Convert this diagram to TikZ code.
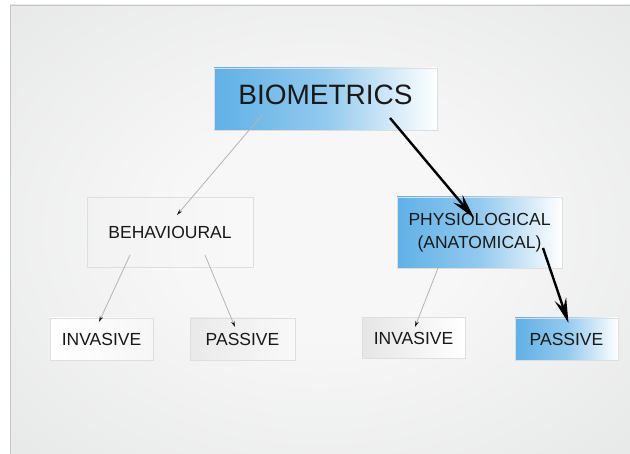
\documentclass[tikz,border=0pt]{standalone}
\usepackage{fontspec}
\setmainfont{Liberation Sans}
\usetikzlibrary{arrows.meta}
\definecolor{bioblue}{RGB}{96,176,230}
\definecolor{bgin}{RGB}{247,247,247}
\definecolor{bgout}{RGB}{208,210,210}
\definecolor{boxline}{RGB}{222,222,222}
\definecolor{linkgray}{RGB}{180,180,180}
\definecolor{ink}{RGB}{25,25,25}
\pgfdeclareradialshading{slidebg}{\pgfpoint{0bp}{0bp}}{color(0bp)=(bgin); color(12bp)=(bgin); color(71bp)=(bgout)}
\tikzset{
  card/.style={draw=boxline, line width=0.6pt, inner sep=0pt, text=ink,
    font=\fontsize{17.5}{23}\selectfont, align=center},
  bluecard/.style={card, left color=bioblue, right color=white, middle color=bioblue!68},
  graycard/.style 2 args={card, left color=#1, right color=#2},
  minor edge/.style={draw=linkgray, line width=0.8pt, -{Stealth[length=6pt,width=3.5pt,color=ink]}},
  major edge/.style={draw=black, line width=2.4pt, -{Stealth[length=25pt,width=12pt,inset=9pt]}},
}
\begin{document}
\begin{tikzpicture}[x=1pt, y=-1pt]
\useasboundingbox (0,0) rectangle (630,454);
\fill[white] (0,0) rectangle (630,454);
\shade[shading=slidebg, draw=gray!45, line width=0.6pt] (10,5) rectangle (630,454);
\node[bluecard, minimum width=223, minimum height=62, text depth=8pt,
  font=\fontsize{28}{30}\selectfont] (bio) at (325.5,99) {BIOMETRICS};
\node[graycard={gray!10}{gray!5}, minimum width=166, minimum height=70] (beh) at (170,232) {BEHAVIOURAL};
\node[bluecard, minimum width=165, minimum height=71] (phy) at (479.5,232.5) {PHYSIOLOGICAL\\(ANATOMICAL)};
\node[graycard={white}{gray!7}, minimum width=103, minimum height=42] (invb) at (101.5,339) {INVASIVE};
\node[graycard={gray!17}{gray!5}, minimum width=105, minimum height=42] (pasb) at (242.5,339) {PASSIVE};
\node[graycard={gray!20}{white}, minimum width=103, minimum height=41] (invp) at (413.5,338) {INVASIVE};
\node[bluecard, minimum width=103, minimum height=42] (pasp) at (566.5,339) {PASSIVE};
\draw[minor edge] ([shift={(-63.5,16)}]bio.center) -- ([shift={(7,-17)}]beh.center);
\draw[minor edge] ([shift={(-40,23)}]beh.center) -- ([shift={(-2.5,-17)}]invb.center);
\draw[minor edge] ([shift={(35,23)}]beh.center) -- ([shift={(-7.5,-12)}]pasb.center);
\draw[minor edge] ([shift={(-41.5,35.5)}]phy.center) -- ([shift={(1.5,-11)}]invp.center);
\draw[major edge] ([shift={(64.5,19)}]bio.center) -- ([shift={(-5.5,-14.5)}]phy.center);
\draw[major edge] ([shift={(63.5,15.5)}]phy.center) -- ([shift={(2,-16)}]pasp.center);
\end{tikzpicture}
\end{document}
